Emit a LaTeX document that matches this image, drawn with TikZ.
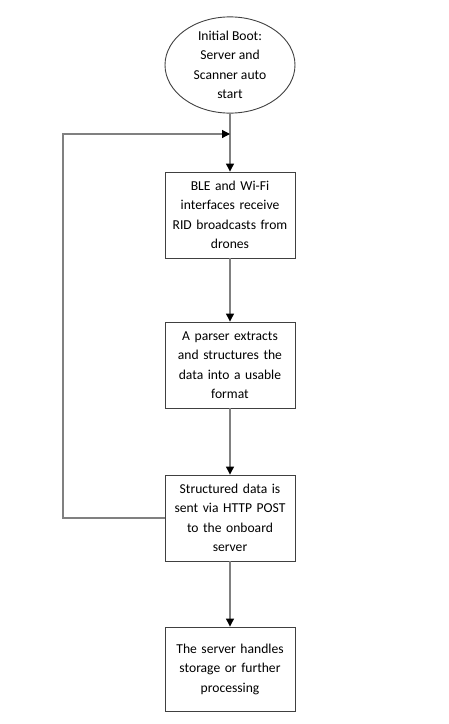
\documentclass[tikz,border=0pt]{standalone}
\usepackage{fontspec}
\setmainfont{Carlito}
\usetikzlibrary{shapes.geometric,arrows.meta}
\begin{document}
\begin{tikzpicture}[x=1pt,y=-1pt,
  flowbox/.style={draw=black!75,line width=0.9pt,minimum width=130pt,minimum height=86pt,align=center,text width=126pt,font=\fontsize{13.6}{19.5}\selectfont,inner sep=0pt},
  startoval/.style={ellipse,draw=black!75,line width=0.9pt,minimum width=130pt,minimum height=83pt,align=center,font=\fontsize{13.6}{19.5}\selectfont,inner sep=0pt},
  conn/.style={draw=black!50,line width=1.2pt,-{Triangle[length=8pt,width=8pt,color=black]}},
  plainconn/.style={draw=black!50,line width=1.2pt}]
\useasboundingbox (0,0) rectangle (449,724);
\node[startoval] (start) at (230,65) {Initial Boot:\\Server and\\Scanner auto\\start};
\node[flowbox] (b1) at (230,215) {BLE and Wi-Fi\\interfaces receive\\RID broadcasts from\\drones};
\node[flowbox] (b2) at (230,365) {A parser extracts\\and structures the\\data into a usable\\format};
\node[flowbox] (b3) at (230,518) {Structured data is\\sent via HTTP POST\\to the onboard\\server};
\node[flowbox,minimum height=84pt] (b4) at (230,669) {The server handles\\storage or further\\processing};
\coordinate (m) at (230,134);
\coordinate (lb) at (63,518);
\coordinate (lt) at (63,134);
\draw[conn] (start) -- (b1);
\draw[conn] (b1) -- (b2);
\draw[conn] (b2) -- (b3);
\draw[conn] (b3) -- (b4);
\draw[conn] (b3.west) -- (lb) -- (lt) -- (m);
\end{tikzpicture}
\end{document}
